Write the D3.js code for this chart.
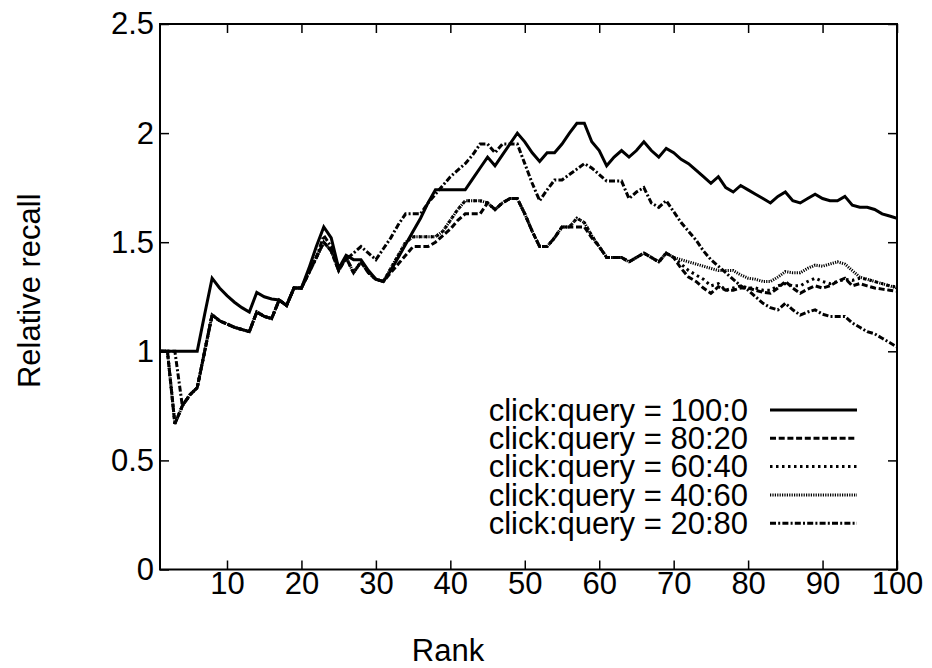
<!DOCTYPE html>
<html>
<head>
<meta charset="utf-8">
<script src="https://cdn.jsdelivr.net/npm/d3@7"></script>
<style>
  html, body { margin: 0; padding: 0; background: #fff; }
  svg text { font-family: "Liberation Sans", Arial, Helvetica, sans-serif; fill: #000; }
</style>
</head>
<body>
<svg id="chart" width="932" height="668"></svg>
<script>
// ---- data ----
const ranks = d3.range(1, 101);
const seriesNames = ["click:query = 100:0", "click:query = 80:20", "click:query = 60:40", "click:query = 40:60", "click:query = 20:80"];
const xTicks = [10, 20, 30, 40, 50, 60, 70, 80, 90, 100];
const yTicks = [0, 0.5, 1, 1.5, 2, 2.5];
const yTickLabels = ["0", "0.5", "1", "1.5", "2", "2.5"];

const recall100_0 = [
  1, 1, 1, 1, 1, 1, 1.17, 1.335, 1.29, 1.255,
  1.225, 1.2, 1.18, 1.27, 1.25, 1.24, 1.235, 1.21, 1.29, 1.29,
  1.38, 1.48, 1.57, 1.52, 1.38, 1.44, 1.42, 1.42, 1.37, 1.33,
  1.32, 1.37, 1.43, 1.49, 1.55, 1.61, 1.68, 1.74, 1.74, 1.74,
  1.74, 1.74, 1.79, 1.84, 1.89, 1.85, 1.9, 1.95, 2.0, 1.96,
  1.91, 1.87, 1.91, 1.91, 1.95, 2.0, 2.045, 2.045, 1.96, 1.92,
  1.85, 1.89, 1.92, 1.89, 1.92, 1.96, 1.92, 1.89, 1.93, 1.91,
  1.88, 1.86, 1.83, 1.8, 1.77, 1.8, 1.75, 1.73, 1.76, 1.74,
  1.72, 1.7, 1.68, 1.71, 1.73, 1.69, 1.68, 1.7, 1.72, 1.7,
  1.69, 1.69, 1.71, 1.67, 1.66, 1.66, 1.65, 1.63, 1.62, 1.61
];
const recall80_20 = [
  1, 1, 0.667, 0.75, 0.8, 0.833, 1.0, 1.167, 1.14, 1.125,
  1.11, 1.1, 1.09, 1.18, 1.16, 1.15, 1.235, 1.21, 1.29, 1.29,
  1.36, 1.43, 1.5, 1.46, 1.37, 1.43, 1.36, 1.41, 1.36, 1.33,
  1.32, 1.36, 1.4, 1.44, 1.48, 1.48, 1.48, 1.5, 1.53, 1.56,
  1.6, 1.63, 1.63, 1.63, 1.68, 1.65, 1.68, 1.7, 1.7, 1.63,
  1.55, 1.48, 1.48, 1.52, 1.57, 1.57, 1.57, 1.57, 1.52, 1.48,
  1.43, 1.43, 1.43, 1.41, 1.43, 1.45, 1.43, 1.41, 1.45, 1.43,
  1.38, 1.34, 1.32, 1.29, 1.266, 1.296, 1.28, 1.28, 1.29, 1.29,
  1.28, 1.27, 1.266, 1.29, 1.32, 1.29, 1.266, 1.285, 1.3, 1.29,
  1.3, 1.32, 1.335, 1.3, 1.31, 1.3, 1.29, 1.285, 1.28, 1.275
];
const recall60_40 = [
  1, 1, 0.667, 0.75, 0.8, 0.833, 1.0, 1.167, 1.14, 1.125,
  1.11, 1.1, 1.09, 1.18, 1.16, 1.15, 1.235, 1.21, 1.29, 1.29,
  1.36, 1.43, 1.5, 1.46, 1.37, 1.43, 1.36, 1.41, 1.36, 1.33,
  1.32, 1.38, 1.44, 1.5, 1.525, 1.525, 1.525, 1.525, 1.55, 1.6,
  1.65, 1.69, 1.69, 1.69, 1.68, 1.65, 1.68, 1.7, 1.7, 1.63,
  1.55, 1.48, 1.48, 1.52, 1.57, 1.57, 1.61, 1.59, 1.53, 1.48,
  1.43, 1.43, 1.43, 1.41, 1.43, 1.45, 1.43, 1.41, 1.45, 1.43,
  1.4, 1.37, 1.35, 1.33, 1.3, 1.31, 1.28, 1.29, 1.3, 1.29,
  1.29, 1.28, 1.28, 1.3, 1.31, 1.3, 1.3, 1.32, 1.335, 1.32,
  1.31, 1.32, 1.33, 1.325, 1.335, 1.33, 1.32, 1.31, 1.3, 1.295
];
const recall40_60 = [
  1, 1, 0.667, 0.75, 0.8, 0.833, 1.0, 1.167, 1.14, 1.125,
  1.11, 1.1, 1.09, 1.18, 1.16, 1.15, 1.235, 1.21, 1.29, 1.29,
  1.36, 1.43, 1.5, 1.46, 1.37, 1.43, 1.36, 1.41, 1.36, 1.33,
  1.32, 1.38, 1.44, 1.5, 1.525, 1.525, 1.525, 1.525, 1.55, 1.6,
  1.65, 1.69, 1.69, 1.69, 1.68, 1.65, 1.68, 1.7, 1.7, 1.63,
  1.55, 1.48, 1.48, 1.52, 1.57, 1.57, 1.61, 1.59, 1.53, 1.48,
  1.43, 1.43, 1.43, 1.41, 1.43, 1.45, 1.43, 1.41, 1.45, 1.43,
  1.42, 1.41, 1.4, 1.39, 1.38, 1.37, 1.37, 1.37, 1.35, 1.335,
  1.33, 1.32, 1.32, 1.34, 1.365, 1.36, 1.36, 1.38, 1.395, 1.39,
  1.4, 1.41, 1.4, 1.37, 1.34, 1.33, 1.32, 1.31, 1.3, 1.29
];
const recall20_80 = [
  1, 1, 1, 0.75, 0.8, 0.833, 1.0, 1.167, 1.14, 1.125,
  1.11, 1.1, 1.09, 1.18, 1.16, 1.15, 1.235, 1.21, 1.29, 1.29,
  1.36, 1.43, 1.53, 1.48, 1.38, 1.42, 1.45, 1.48, 1.45, 1.42,
  1.47, 1.52, 1.58, 1.63, 1.63, 1.63, 1.68, 1.72, 1.76, 1.8,
  1.83, 1.86, 1.9, 1.95, 1.95, 1.91, 1.95, 1.95, 1.95, 1.86,
  1.77, 1.69, 1.74, 1.785, 1.785, 1.81, 1.835, 1.86, 1.84, 1.81,
  1.78, 1.78, 1.78, 1.7, 1.73, 1.75, 1.68, 1.66, 1.69, 1.64,
  1.59, 1.55, 1.51, 1.46, 1.42, 1.39, 1.36, 1.33, 1.3, 1.28,
  1.25, 1.22, 1.2, 1.19, 1.22, 1.19, 1.166, 1.18, 1.19, 1.17,
  1.16, 1.16, 1.16, 1.13, 1.11, 1.09, 1.08, 1.06, 1.04, 1.02
];
const seriesValues = [recall100_0, recall80_20, recall60_40, recall40_60, recall20_80];
const dashStyles = ["none", "6,2.7", "2.5,3.5", "1.2,1.2", "6,2.2,2,2.2"];

// ---- layout ----
const svg = d3.select("#chart");
const padL = 160, padR = 897, padT = 24, padB = 569.5;

const x = d3.scaleLinear().domain([1, 100]).range([padL, padR]);
const y = d3.scaleLinear().domain([0, 2.5]).range([padB, padT]);

// axes (inward ticks, mirrored)
const fontSize = 31;
const gB = svg.append("g").attr("transform", `translate(0,${padB})`)
  .call(d3.axisBottom(x).tickValues(xTicks).tickSize(-9).tickPadding(2).tickFormat(d3.format("d")));
const gT = svg.append("g").attr("transform", `translate(0,${padT})`)
  .call(d3.axisTop(x).tickValues(xTicks).tickSize(-9).tickFormat(""));
const gL = svg.append("g").attr("transform", `translate(${padL},0)`)
  .call(d3.axisLeft(y).tickValues(yTicks).tickSize(-9).tickPadding(6).tickFormat((d, i) => yTickLabels[i]));
const gR = svg.append("g").attr("transform", `translate(${padR},0)`)
  .call(d3.axisRight(y).tickValues(yTicks).tickSize(-9).tickFormat(""));
[gB, gT, gL, gR].forEach(g => {
  g.select(".domain").remove();
  g.selectAll(".tick line").attr("stroke", "#000").attr("stroke-width", 1.5);
  g.selectAll(".tick text").attr("font-size", fontSize).attr("font-family", "Liberation Sans, Arial, sans-serif");
});
gB.selectAll(".tick text").attr("dy", "0.71em");

// frame
svg.append("rect").attr("x", padL).attr("y", padT)
  .attr("width", padR - padL).attr("height", padB - padT)
  .attr("fill", "none").attr("stroke", "#000").attr("stroke-width", 2);

// lines
svg.append("clipPath").attr("id", "plotclip").append("rect")
  .attr("x", padL).attr("y", padT).attr("width", padR - padL).attr("height", padB - padT);
const line = d3.line().x((d, i) => x(ranks[i])).y(d => y(d));
const gLines = svg.append("g").attr("clip-path", "url(#plotclip)");
seriesValues.forEach((vals, k) => {
  gLines.append("path").datum(vals)
    .attr("d", line)
    .attr("fill", "none").attr("stroke", "#000")
    .attr("stroke-width", 3)
    .attr("stroke-linejoin", "miter")
    .attr("stroke-dasharray", dashStyles[k]);
});

// legend
const legY0 = 410, legDy = 28.3;
seriesNames.forEach((name, k) => {
  const yy = legY0 + k * legDy;
  svg.append("text").attr("x", 748).attr("y", yy).attr("dy", "0.35em")
    .attr("text-anchor", "end").attr("font-size", fontSize).text(name);
  svg.append("line").attr("x1", 770).attr("x2", 857).attr("y1", yy).attr("y2", yy)
    .attr("stroke", "#000").attr("stroke-width", 3).attr("stroke-dasharray", dashStyles[k]);
});

// axis titles
svg.append("text").attr("x", 448).attr("y", 661)
  .attr("text-anchor", "middle").attr("font-size", fontSize).text("Rank");
svg.append("text").attr("transform", `translate(40,${(padT + padB) / 2 - 6}) rotate(-90)`)
  .attr("text-anchor", "middle").attr("font-size", fontSize).text("Relative recall");
</script>
</body>
</html>
